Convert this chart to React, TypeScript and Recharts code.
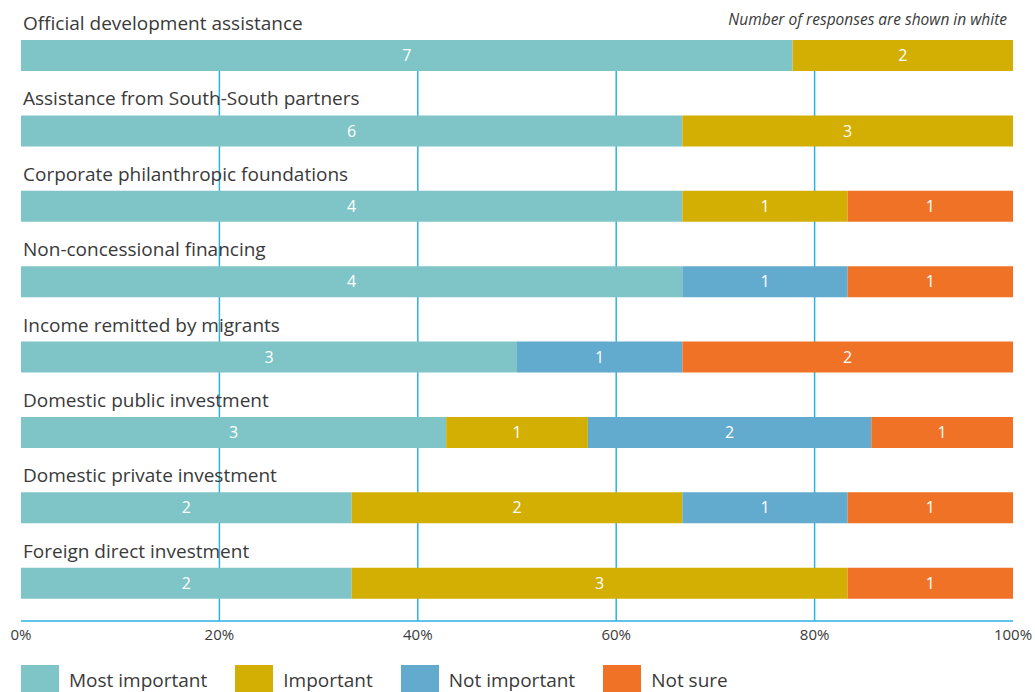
import { BarChart, Bar, XAxis, YAxis, CartesianGrid, LabelList } from 'recharts'

const categories = [
  'Official development assistance',
  'Assistance from South-South partners',
  'Corporate philanthropic foundations',
  'Non-concessional financing',
  'Income remitted by migrants',
  'Domestic public investment',
  'Domestic private investment',
  'Foreign direct investment',
]
const mostImportant = [7, 6, 4, 4, 3, 3, 2, 2]
const important = [2, 3, 1, 0, 0, 1, 2, 3]
const notImportant = [0, 0, 0, 1, 1, 2, 1, 0]
const notSure = [0, 0, 1, 1, 2, 1, 1, 1]
const xTicks = [0, 0.2, 0.4, 0.6, 0.8, 1]

const series = [
  { key: 'most', label: 'Most important', color: '#7fc4c6' },
  { key: 'important', label: 'Important', color: '#d3af03' },
  { key: 'notImportant', label: 'Not important', color: '#62aace' },
  { key: 'notSure', label: 'Not sure', color: '#f07227' },
]

const data = categories.map((name, i) => ({
  name,
  most: mostImportant[i],
  important: important[i],
  notImportant: notImportant[i],
  notSure: notSure[i],
}))

const FONT = '"Open Sans", "Noto Sans", sans-serif'
const W = 1035
const H = 692
const margin = { top: 18, right: 22, bottom: 41, left: 21 }
const axisHeight = 30
const barSize = 31
const band = (H - margin.top - margin.bottom - axisHeight) / categories.length
const gridTop = margin.top + (band - barSize) / 2

function CategoryLabel(props: any) {
  const { x, y, value } = props
  return (
    <text x={x + 2} y={y - 10} fill="#3a3a3a" fontSize={19} fontFamily={FONT}>
      {value}
    </text>
  )
}

export default function App() {
  return (
    <div style={{ position: 'relative', width: W, height: H, fontFamily: FONT, background: '#fff', overflow: 'hidden' }}>
      <style>{'html,body{margin:0;padding:0;overflow:hidden;}'}</style>
      <div
        style={{
          position: 'absolute',
          right: 28,
          top: 8,
          fontSize: 15.5,
          fontStyle: 'italic',
          color: '#3a3a3a',
        }}
      >
        Number of responses are shown in white
      </div>
      <BarChart
        width={W}
        height={H}
        data={data}
        layout="vertical"
        stackOffset="expand"
        margin={margin}
      >
        <CartesianGrid
          horizontal={false}
          stroke="#2cb2e4"
          strokeWidth={1.5}
          y={gridTop}
          height={H - margin.bottom - axisHeight - gridTop}
          verticalCoordinatesGenerator={({ offset }: any) =>
            [0.2, 0.4, 0.6, 0.8].map((v) => offset.left + v * offset.width)
          }
        />
        <XAxis
          type="number"
          domain={[0, 1]}
          ticks={xTicks}
          tickFormatter={(v: number) => `${Math.round(v * 100)}%`}
          axisLine={{ stroke: '#2cb2e4', strokeWidth: 1.5 }}
          tickLine={false}
          height={axisHeight}
          tick={{ fill: '#3a3a3a', fontSize: 15, fontFamily: FONT }}
          interval={0}
        />
        <YAxis type="category" dataKey="name" hide />
        {series.map((s, i) => (
          <Bar
            key={s.key}
            dataKey={s.key}
            stackId="a"
            fill={s.color}
            barSize={barSize}
            isAnimationActive={false}
          >
            <LabelList
              dataKey={s.key}
              position="center"
              fill="#fff"
              fontSize={16}
              fontFamily={FONT}
              formatter={(v: any) => (v ? v : '')}
            />
            {i === 0 && <LabelList dataKey="name" content={CategoryLabel} />}
          </Bar>
        ))}
      </BarChart>
      <div style={{ position: 'absolute', left: 21, top: 665, display: 'flex', alignItems: 'flex-start' }}>
        {series.map((s) => (
          <div key={s.key} style={{ display: 'flex', alignItems: 'flex-start', marginRight: 28 }}>
            <div style={{ width: 38, height: 27, background: s.color, marginRight: 10 }} />
            <span style={{ fontSize: 19, lineHeight: '30px', color: '#3a3a3a' }}>{s.label}</span>
          </div>
        ))}
      </div>
    </div>
  )
}
